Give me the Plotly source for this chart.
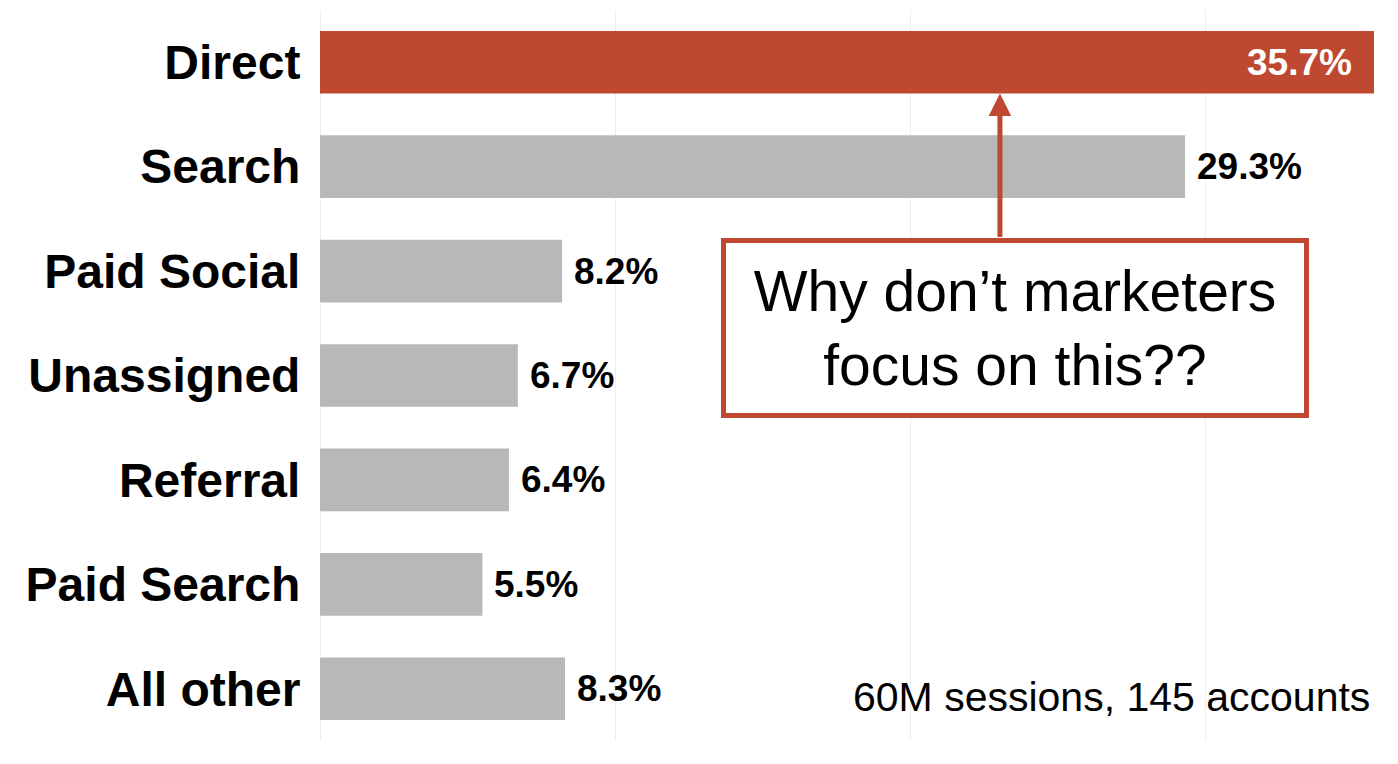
import plotly.graph_objects as go

categories = ["Direct", "Search", "Paid Social", "Unassigned", "Referral", "Paid Search", "All other"]
values = [35.7, 29.3, 8.2, 6.7, 6.4, 5.5, 8.3]
labels = ["35.7%", "29.3%", "8.2%", "6.7%", "6.4%", "5.5%", "8.3%"]
highlight = "Direct"
callout_text = "Why don’t marketers<br>focus on this??"
footnote = "60M sessions, 145 accounts"

RED = "#BF4930"
GRAY = "#B8B8B8"
FONT = "Liberation Sans, Arial, sans-serif"

colors = [RED if c == highlight else GRAY for c in categories]

fig = go.Figure()
fig.add_trace(go.Bar(
    x=values, y=categories, orientation="h",
    marker=dict(color=colors, line=dict(width=0)),
    width=0.6, hoverinfo="skip",
))

annotations = []
for c, v, t in zip(categories, values, labels):
    if c == highlight:
        annotations.append(dict(x=v, y=c, xref="x", yref="y", text=t, showarrow=False,
                                xanchor="right", xshift=-20, yanchor="middle",
                                font=dict(family=FONT, size=37, color="white", weight="bold")))
    else:
        annotations.append(dict(x=v, y=c, xref="x", yref="y", text=t, showarrow=False,
                                xanchor="left", xshift=10, yanchor="middle",
                                font=dict(family=FONT, size=37, color="black", weight="bold")))

# arrow from callout box to highlighted bar
annotations.append(dict(x=23.03, y=0.3, xref="x", yref="y", text="", showarrow=True,
                        ax=0, ay=145, arrowcolor=RED, arrowwidth=5, arrowhead=2,
                        arrowsize=0.9, standoff=0))
# callout box
annotations.append(dict(x=(1015 - 320) / 1054, y=(741 - 328) / 731, xref="paper", yref="paper",
                        text=callout_text, showarrow=False, xanchor="center", yanchor="middle",
                        width=578, height=170, align="center", valign="middle",
                        bordercolor=RED, borderwidth=5, borderpad=0, bgcolor="white",
                        font=dict(family=FONT, size=57, color="black")))
# footnote
annotations.append(dict(x=1.0, y=(741 - 697) / 731, xref="paper", yref="paper",
                        text=footnote, showarrow=False, xanchor="right", yanchor="middle",
                        xshift=-2,
                        font=dict(family=FONT, size=41, color="black")))

fig.update_layout(
    width=1398, height=764,
    margin=dict(l=312, r=32, t=2, b=31),
    paper_bgcolor="white", plot_bgcolor="white",
    showlegend=False,
    annotations=annotations,
    xaxis=dict(range=[0, 35.7], dtick=10, showticklabels=False, showgrid=True,
               gridcolor="#EEEEEE", gridwidth=1, zeroline=True, zerolinecolor="#EEEEEE",
               zerolinewidth=1, showline=False, fixedrange=True, automargin=False),
    yaxis=dict(range=[6.5, -0.5], autorange=False, showgrid=False, zeroline=False, showline=False,
               ticks="outside", ticklen=9, tickcolor="rgba(0,0,0,0)", automargin=False,
               tickfont=dict(family=FONT, size=48, color="black", weight="bold")),
)

fig.write_html("out.html")
